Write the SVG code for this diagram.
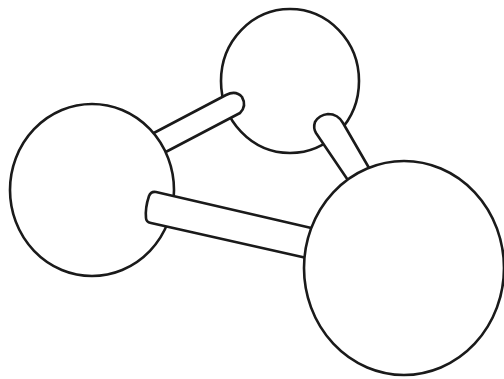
<svg xmlns="http://www.w3.org/2000/svg" width="504" height="379" viewBox="0 0 504 379">
<style>
.s{fill:#fff;stroke:#1a1a1a;stroke-width:2.6;stroke-linejoin:round}
</style>
<rect width="504" height="379" fill="#fff"/>
<g id="node-top"><ellipse class="s" cx="290" cy="81" rx="69" ry="72"/></g>
<g id="connectors-a"><path class="s" d="M150 135L226 95Q236 90 242 97Q247 106 240 113L160 155Z"/></g>
<g id="node-left"><ellipse class="s" cx="92" cy="190" rx="82" ry="86"/></g>
<g id="connectors-b">
<path class="s" d="M320 230L156 192Q151 191 149 196Q145 208 146 218Q146 222 151 223L320 261Z"/>
<path class="s" d="M376 180L343 123Q338 114 328 114Q319 115 315 122Q313 128 316 133L358 195Z"/>
</g>
<g id="node-big"><ellipse class="s" cx="404" cy="268" rx="100" ry="107"/></g>
</svg>
